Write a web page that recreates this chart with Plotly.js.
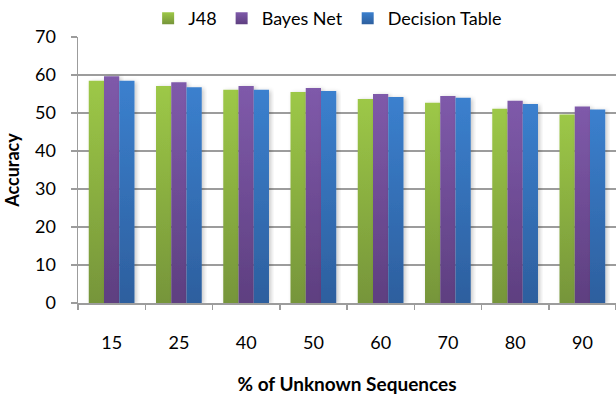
<!DOCTYPE html>
<html>
<head>
<meta charset="utf-8">
<script src="https://cdn.plot.ly/plotly-3.0.1.min.js"></script>
<style>
  html, body { margin: 0; padding: 0; background: #ffffff; }
  #chart { width: 616px; height: 395px; }
</style>
</head>
<body>
<div id="chart"></div>
<script>
// ---- data ----
const categories = ['15', '25', '40', '50', '60', '70', '80', '90'];
const j48 = [58.5, 57.1, 56.1, 55.5, 53.7, 52.7, 51.1, 49.6];
const bayesNet = [59.7, 58.1, 57.1, 56.6, 55.0, 54.5, 53.2, 51.7];
const decisionTable = [58.5, 56.8, 56.1, 55.8, 54.2, 54.0, 52.4, 50.9];
const seriesNames = ['J48', 'Bayes Net', 'Decision Table'];
const yTickValues = [0, 10, 20, 30, 40, 50, 60, 70];
const xTitle = '% of Unknown Sequences';
const yTitle = 'Accuracy';

// ---- styles ----
const baseColors = ['#8bb143', '#6d4c95', '#3470b8'];
const gradStops = [
  ['#9dc847', '#76953a'],
  ['#7f5aaa', '#5e3f80'],
  ['#3b80ce', '#2d5f9e']
];
const gridColor = '#9c9c9c';
const fontFamily = 'Lato, "Open Sans", sans-serif';

const seriesValues = [j48, bayesNet, decisionTable];
const traces = seriesValues.map((vals, i) => ({
  type: 'bar',
  name: seriesNames[i],
  x: categories,
  y: vals,
  marker: { color: baseColors[i], line: { width: 0 } },
  hoverinfo: 'x+y+name'
}));

const layout = {
  width: 616,
  height: 395,
  margin: { l: 78, r: 0, t: 32, b: 92 },
  paper_bgcolor: '#ffffff',
  plot_bgcolor: '#ffffff',
  font: { family: fontFamily, size: 18, color: '#000000' },
  barmode: 'group',
  bargap: 0.32,
  bargroupgap: 0,
  showlegend: true,
  legend: {
    orientation: 'h',
    x: 0.464, xanchor: 'center',
    y: 1.0, yanchor: 'bottom',
    yref: 'paper',
    font: { family: fontFamily, size: 18, color: '#000000' },
    itemwidth: 30,
    tracegroupgap: 0,
    bgcolor: 'rgba(0,0,0,0)'
  },
  xaxis: {
    type: 'category',
    showline: true,
    linecolor: gridColor,
    linewidth: 2,
    ticks: 'outside',
    tickson: 'boundaries',
    ticklen: 5,
    tickwidth: 1.5,
    tickcolor: gridColor,
    showgrid: false,
    ticklabelstandoff: 22,
    tickfont: { family: fontFamily, size: 18, color: '#000000' },
    title: { text: xTitle, standoff: 26, font: { family: fontFamily, size: 19, color: '#000000', weight: 'bold' } },
    fixedrange: true
  },
  yaxis: {
    range: [0, 70],
    tickvals: yTickValues,
    ticktext: yTickValues.map(String),
    showline: true,
    linecolor: gridColor,
    linewidth: 1.5,
    ticks: 'outside',
    ticklen: 6,
    tickwidth: 1.5,
    tickcolor: gridColor,
    showgrid: true,
    gridcolor: gridColor,
    gridwidth: 2,
    zeroline: false,
    ticklabelstandoff: 11,
    tickfont: { family: fontFamily, size: 18, color: '#000000' },
    title: { text: yTitle, standoff: 10, font: { family: fontFamily, size: 18, color: '#000000', weight: 'bold' } },
    fixedrange: true
  }
};

function applyGradients(gd) {
  const svg = gd.querySelector('svg.main-svg');
  if (!svg) return;
  const ns = 'http://www.w3.org/2000/svg';
  let defs = svg.querySelector('defs#customdefs');
  if (!defs) {
    defs = document.createElementNS(ns, 'defs');
    defs.setAttribute('id', 'customdefs');
    gradStops.forEach((stops, i) => {
      const lg = document.createElementNS(ns, 'linearGradient');
      lg.setAttribute('id', 'bargrad' + i);
      lg.setAttribute('x1', '0'); lg.setAttribute('y1', '0');
      lg.setAttribute('x2', '0'); lg.setAttribute('y2', '1');
      [[0, stops[0]], [1, stops[1]]].forEach(([o, c]) => {
        const s = document.createElementNS(ns, 'stop');
        s.setAttribute('offset', String(o));
        s.setAttribute('stop-color', c);
        lg.appendChild(s);
      });
      defs.appendChild(lg);
    });
    const f = document.createElementNS(ns, 'filter');
    f.setAttribute('id', 'barshadow');
    f.setAttribute('x', '-30%'); f.setAttribute('y', '-10%');
    f.setAttribute('width', '160%'); f.setAttribute('height', '120%');
    const ds = document.createElementNS(ns, 'feDropShadow');
    ds.setAttribute('dx', '2'); ds.setAttribute('dy', '1');
    ds.setAttribute('stdDeviation', '2');
    ds.setAttribute('flood-color', '#000000');
    ds.setAttribute('flood-opacity', '0.22');
    f.appendChild(ds);
    defs.appendChild(f);
    svg.insertBefore(defs, svg.firstChild);
  }
  const traceGroups = gd.querySelectorAll('.barlayer .trace.bars');
  traceGroups.forEach((g, i) => {
    g.querySelectorAll('path').forEach(p => {
      p.style.fill = 'url(#bargrad' + i + ')';
      p.style.filter = 'url(#barshadow)';
    });
  });
  const legendTraces = gd.querySelectorAll('.legend .traces');
  legendTraces.forEach((t, i) => {
    t.querySelectorAll('.legendpoints path').forEach(p => {
      p.style.fill = 'url(#bargrad' + i + ')';
    });
  });
}

const gd = document.getElementById('chart');
Plotly.newPlot(gd, traces, layout, { displayModeBar: false, staticPlot: true }).then(() => {
  applyGradients(gd);
  gd.on && gd.on('plotly_afterplot', () => applyGradients(gd));
});
</script>
</body>
</html>
